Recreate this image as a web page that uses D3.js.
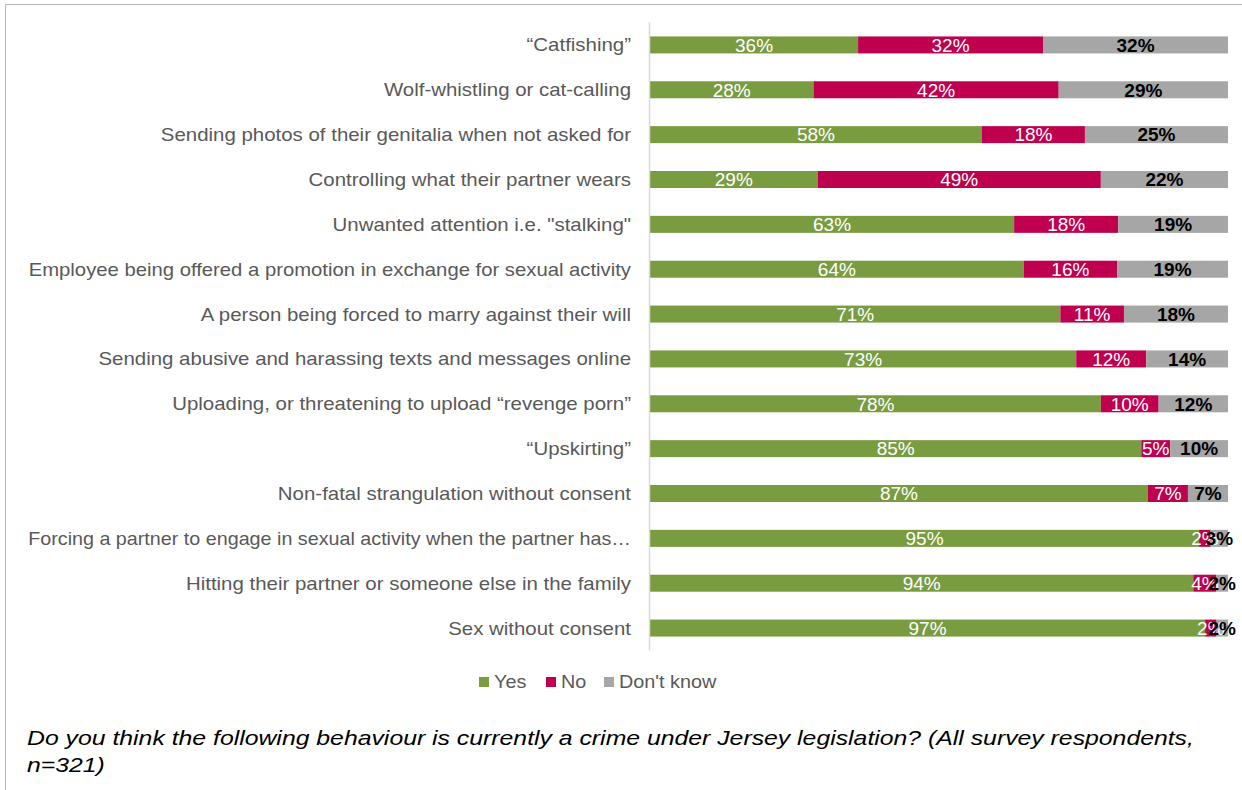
<!DOCTYPE html>
<html>
<head>
<meta charset="utf-8">
<script src="https://cdn.jsdelivr.net/npm/d3@7"></script>
<style>
  html, body { margin: 0; padding: 0; background: #fff; }
  svg { display: block; font-family: "Liberation Sans", Arial, sans-serif; }
</style>
</head>
<body>
<svg id="chart" width="1242" height="790"></svg>
<script>
// Survey behaviours, top to bottom
const categories = [
  "“Catfishing”",
  "Wolf-whistling or cat-calling",
  "Sending photos of their genitalia when not asked for",
  "Controlling what their partner wears",
  "Unwanted attention i.e. \"stalking\"",
  "Employee being offered a promotion in exchange for sexual activity",
  "A person being forced to marry against their will",
  "Sending abusive and harassing texts and messages online",
  "Uploading, or threatening to upload “revenge porn”",
  "“Upskirting”",
  "Non-fatal strangulation without consent",
  "Forcing a partner to engage in sexual activity when the partner has…",
  "Hitting their partner or someone else in the family",
  "Sex without consent"
];
const yesValues = [36, 28, 58, 29, 63, 64, 71, 73, 78, 85, 87, 95, 94, 97];
const noValues  = [32, 42, 18, 49, 18, 16, 11, 12, 10, 5, 7, 2, 4, 2];
const dkValues  = [32, 29, 25, 22, 19, 19, 18, 14, 12, 10, 7, 3, 2, 2];
const seriesNames = ["Yes", "No", "Don't know"];
const seriesKeys = ["yes", "no", "dk"];
const colors = ["#7a9c41", "#be004f", "#a6a6a6"];
const labelColors = ["#ffffff", "#ffffff", "#000000"];
const labelWeights = ["normal", "normal", "bold"];
const caption = [
  "Do you think the following behaviour is currently a crime under Jersey legislation? (All survey respondents,",
  "n=321)"
];

const rows = categories.map((c, i) => ({ cat: c, yes: yesValues[i], no: noValues[i], dk: dkValues[i] }));

const svg = d3.select("#chart");

// outer frame
svg.append("path")
  .attr("d", "M5.5,790 V4.5 H1242")
  .attr("fill", "none")
  .attr("stroke", "#b4b4b4")
  .attr("stroke-width", 1);

const x = d3.scaleLinear().domain([0, 1]).range([650, 1228]);
const y = d3.scaleBand().domain(categories).range([22.5, 650.5])
  .paddingInner(0.621).paddingOuter(0.3105);

// 100% stacked layout
const stack = d3.stack().keys(seriesKeys).offset(d3.stackOffsetExpand);
const layers = stack(rows);

const g = svg.append("g");
layers.forEach((layer, li) => {
  g.append("g").selectAll("rect")
    .data(layer)
    .join("rect")
    .attr("x", d => x(d[0]))
    .attr("y", d => y(d.data.cat))
    .attr("width", d => x(d[1]) - x(d[0]))
    .attr("height", y.bandwidth())
    .attr("fill", colors[li]);
});

// category axis line (labels drawn separately below with wide lettering)
const yAxis = svg.append("g")
  .attr("transform", "translate(649.5,0)")
  .call(d3.axisLeft(y).tickSize(0).tickFormat(""));
yAxis.select(".domain")
  .attr("stroke", "#d9d9d9")
  .attr("stroke-width", 1.5)
  .attr("d", "M0,22.5V650.5");

// category labels, right aligned against the axis; long ones squeezed into the label column
const labelStretch = 1.135;
const labelMaxWidth = 603;
svg.append("g").selectAll("text")
  .data(categories)
  .join("text")
  .attr("dy", "0.36em")
  .attr("text-anchor", "end")
  .attr("fill", "#595959")
  .style("font-size", "18px")
  .text(d => d)
  .attr("transform", function (d) {
    const w = this.getComputedTextLength();
    const s = Math.min(labelStretch, labelMaxWidth / w);
    return `translate(631,${y(d) + y.bandwidth() / 2}) scale(${s},1)`;
  });

// segment value labels
layers.forEach((layer, li) => {
  g.append("g").selectAll("text")
    .data(layer)
    .join("text")
    .attr("x", d => (x(d[0]) + x(d[1])) / 2)
    .attr("y", d => y(d.data.cat) + y.bandwidth() / 2)
    .attr("dy", "0.36em")
    .attr("text-anchor", "middle")
    .attr("fill", labelColors[li])
    .attr("font-weight", labelWeights[li])
    .style("font-size", "19px")
    .text(d => d.data[seriesKeys[li]] + "%");
});

// legend
const legendX = [479, 546, 604];
const legend = svg.append("g");
seriesNames.forEach((name, i) => {
  legend.append("rect")
    .attr("x", legendX[i]).attr("y", 677)
    .attr("width", 10).attr("height", 10)
    .attr("fill", colors[i]);
  legend.append("text")
    .attr("transform", `translate(${legendX[i] + 15},682) scale(1.1,1)`)
    .attr("dy", "0.36em")
    .attr("fill", "#595959")
    .style("font-size", "18px")
    .text(name);
});

// caption
svg.append("g").selectAll("text")
  .data(caption)
  .join("text")
  .attr("transform", (d, i) => `translate(27,${745 + i * 27}) scale(1.24,1)`)
  .attr("fill", "#000")
  .style("font-size", "20px")
  .style("font-style", "italic")
  .text(d => d);
</script>
</body>
</html>
